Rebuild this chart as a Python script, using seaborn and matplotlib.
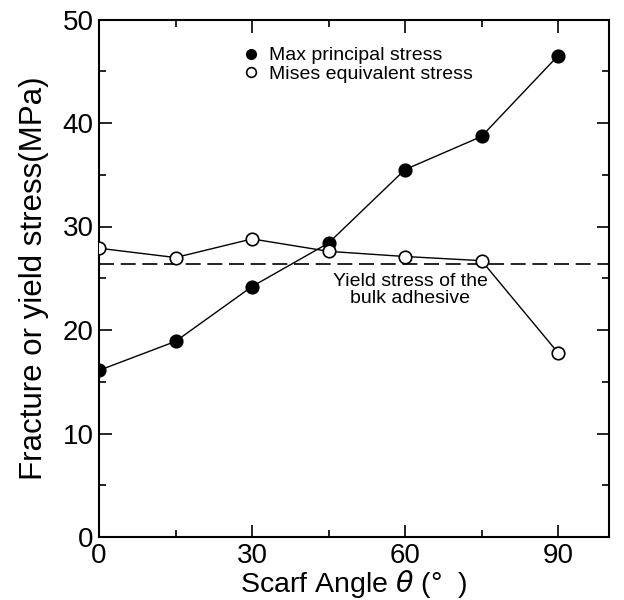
import matplotlib
matplotlib.use("Agg")
import matplotlib.pyplot as plt
from matplotlib.lines import Line2D
import seaborn as sns
import pandas as pd

# Scarf angle (degrees) and stresses at failure (MPa)
angles = [0, 15, 30, 45, 60, 75, 90]
max_principal = [16.1, 18.9, 24.2, 28.4, 35.5, 38.7, 46.5]
mises_equivalent = [27.9, 27.0, 28.8, 27.6, 27.1, 26.7, 17.8]
yield_stress = 26.4

series_names = ["Max principal stress", "Mises equivalent stress"]
x_ticks = [0, 30, 60, 90]
y_ticks = [0, 10, 20, 30, 40, 50]

df = pd.DataFrame({
    "angle": angles * 2,
    "stress": max_principal + mises_equivalent,
    "series": [series_names[0]] * len(angles) + [series_names[1]] * len(angles),
})

sns.set_theme(style="ticks", rc={"text.color": "black", "axes.labelcolor": "black",
                                 "xtick.color": "black", "ytick.color": "black",
                                 "axes.edgecolor": "black"})
plt.rcParams["font.family"] = ["Liberation Sans", "DejaVu Sans"]

fig, ax = plt.subplots(figsize=(6.24, 6.0), dpi=100)
fig.subplots_adjust(left=0.1587, right=0.976, top=0.9675, bottom=0.105)

face = {series_names[0]: "black", series_names[1]: "white"}
for name in series_names:
    sns.lineplot(data=df[df["series"] == name], x="angle", y="stress", ax=ax,
                 color="black", linewidth=1.0, marker="o", markersize=9,
                 markerfacecolor=face[name], markeredgecolor="black",
                 markeredgewidth=1.2, legend=False, zorder=3)

ax.axhline(yield_stress, color="black", linewidth=1.2, dashes=(9, 4), zorder=2)
ax.text(61, 24.7, "Yield stress of the", ha="center", va="center", fontsize=14)
ax.text(61, 23.0, "bulk adhesive", ha="center", va="center", fontsize=14)

ax.set_xlim(0, 100)
ax.set_ylim(0, 50)
ax.set_xticks(x_ticks)
ax.set_xticks([15, 45, 75], minor=True)
ax.set_yticks(y_ticks)
ax.set_yticks([5, 15, 25, 35, 45], minor=True)
ax.tick_params(which="both", direction="in", top=True, right=True,
               width=1.2, labelsize=20, pad=4)
ax.tick_params(which="major", length=9)
ax.tick_params(which="minor", length=5)
for s in ax.spines.values():
    s.set_linewidth(1.5)

ax.set_xlabel("Scarf Angle $\\theta$ (°  )", fontsize=20.5)
ax.xaxis.label.set_verticalalignment("center")
ax.xaxis.set_label_coords(0.5, -0.091)
ax.set_ylabel("Fracture or yield stress(MPa)", fontsize=22.5, labelpad=10)

handles = [
    Line2D([], [], linestyle="none", marker="o", markersize=7,
           markerfacecolor="black", markeredgecolor="black"),
    Line2D([], [], linestyle="none", marker="o", markersize=7,
           markerfacecolor="white", markeredgecolor="black", markeredgewidth=1.2),
]
ax.legend(handles, series_names, loc="upper left", bbox_to_anchor=(0.245, 0.981),
          frameon=False, fontsize=14, handletextpad=0.4, labelspacing=0.05,
          handlelength=1.0)

fig.savefig("out.png", dpi=100)
